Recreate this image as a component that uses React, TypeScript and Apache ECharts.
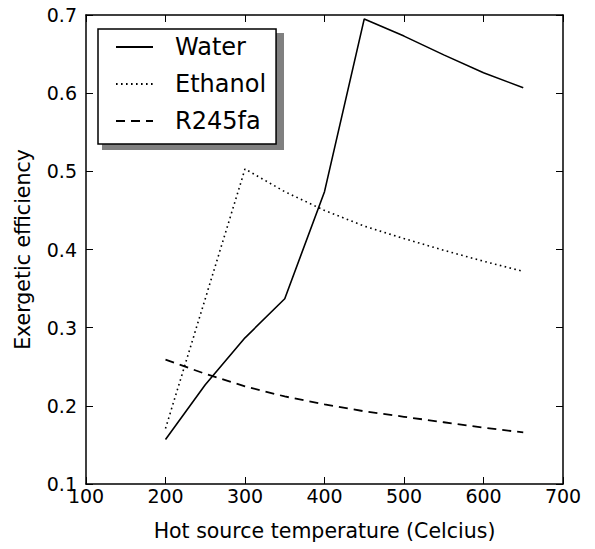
import React, { useEffect, useRef } from "react";
import * as echarts from "echarts";

const temps = [200, 250, 300, 350, 400, 450, 500, 550, 600, 650];
const water = [0.157, 0.227, 0.287, 0.337, 0.474, 0.695, 0.673, 0.649, 0.626, 0.607];
const ethanol = [0.171, null, 0.503, 0.474, 0.450, 0.430, 0.414, 0.399, 0.385, 0.372];
const r245fa = [0.259, 0.241, 0.225, 0.212, 0.202, 0.193, 0.186, 0.179, 0.172, 0.166];
const seriesNames = ["Water", "Ethanol", "R245fa"];
const xTicks = { min: 100, max: 700, interval: 100 };
const yTicks = { min: 0.1, max: 0.7, interval: 0.1 };

const FONT = "DejaVu Sans";

export default function App() {
  const ref = useRef<HTMLDivElement>(null);
  useEffect(() => {
    if (!ref.current) return;
    const chart = echarts.init(ref.current, undefined, { renderer: "svg" });
    const pair = (arr: (number | null)[]) => temps.map((t, i) => [t, arr[i]]);
    const tickCommon = { inside: true, length: 7, lineStyle: { color: "#000", width: 1 } };
    const lineCommon = { show: true, lineStyle: { color: "#000", width: 1.5 } };
    chart.setOption({
      animation: false,
      backgroundColor: "#fff",
      grid: { left: 86, top: 15, width: 477, height: 469, containLabel: false },
      xAxis: [
        {
          type: "value",
          ...xTicks,
          position: "bottom",
          axisLine: lineCommon,
          axisTick: tickCommon,
          splitLine: { show: false },
          axisLabel: {
            color: "#000",
            fontFamily: FONT,
            fontSize: 19,
            margin: 2,
            formatter: (v: number) => String(v),
          },
          name: "Hot source temperature (Celcius)",
          nameLocation: "middle",
          nameGap: 36,
          nameTextStyle: { color: "#000", fontFamily: FONT, fontSize: 20.5 },
        },
        {
          type: "value",
          ...xTicks,
          position: "top",
          axisLine: lineCommon,
          axisTick: tickCommon,
          splitLine: { show: false },
          axisLabel: { show: false },
        },
      ],
      yAxis: [
        {
          type: "value",
          ...yTicks,
          position: "left",
          axisLine: lineCommon,
          axisTick: tickCommon,
          splitLine: { show: false },
          axisLabel: {
            color: "#000",
            fontFamily: FONT,
            fontSize: 19,
            margin: 9,
            formatter: (v: number) => v.toFixed(1),
          },
          name: "Exergetic efficiency",
          nameLocation: "middle",
          nameGap: 53,
          nameTextStyle: { color: "#000", fontFamily: FONT, fontSize: 20.5 },
        },
        {
          type: "value",
          ...yTicks,
          position: "right",
          axisLine: lineCommon,
          axisTick: tickCommon,
          splitLine: { show: false },
          axisLabel: { show: false },
        },
      ],
      legend: {
        orient: "vertical",
        left: 98,
        top: 29,
        width: 182,
        padding: [6, 10, 11, 17],
        itemWidth: 37,
        itemHeight: 24,
        itemGap: 13,
        backgroundColor: "#fff",
        borderColor: "#000",
        borderWidth: 1.5,
        z: 10,
        data: seriesNames,
        itemStyle: { color: "transparent", borderWidth: 0, opacity: 0 },
        textStyle: {
          color: "#000",
          fontFamily: FONT,
          fontSize: 24,
          padding: [0, 0, 0, 17],
        },
      },
      graphic: [
        {
          type: "rect",
          z: 9,
          shape: { x: 102, y: 33, width: 182, height: 117 },
          style: { fill: "#808080" },
        },
      ],
      series: [
        {
          name: seriesNames[0],
          type: "line",
          data: pair(water),
          symbol: "none",
          lineStyle: { color: "#000", width: 1.6, type: "solid" },
          itemStyle: { color: "#000" },
        },
        {
          name: seriesNames[1],
          type: "line",
          data: pair(ethanol),
          connectNulls: true,
          symbol: "none",
          lineStyle: { color: "#000", width: 1.6, type: [1.6, 3.4] },
          itemStyle: { color: "#000" },
        },
        {
          name: seriesNames[2],
          type: "line",
          data: pair(r245fa),
          symbol: "none",
          lineStyle: { color: "#000", width: 1.8, type: [9, 6] },
          itemStyle: { color: "#000" },
        },
      ],
    });
    return () => chart.dispose();
  }, []);
  return <div ref={ref} style={{ width: 595, height: 549, marginLeft: -8, marginTop: -8 }} />;
}
